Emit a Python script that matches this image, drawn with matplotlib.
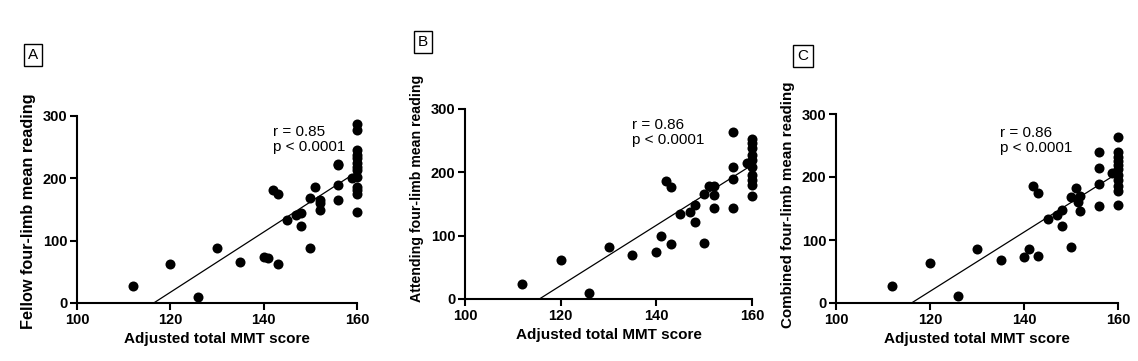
import numpy as np
import matplotlib
matplotlib.use("Agg")
import matplotlib.pyplot as plt

plt.rcParams["font.family"] = ["Liberation Sans", "DejaVu Sans"]

# ---- data ----
x_a = [112, 120, 126, 130, 135, 140, 141, 143, 142, 143, 145, 147, 148, 148, 150, 150,
       151, 152, 152, 152, 156, 156, 156, 156, 159,
       160, 160, 160, 160, 160, 160, 160, 160, 160, 160, 160, 160, 160]
y_a = [27, 62, 9, 88, 65, 73, 72, 62, 182, 175, 133, 141, 145, 124, 88, 169,
       186, 160, 149, 165, 165, 190, 221, 223, 200,
       146, 175, 182, 186, 202, 213, 218, 224, 232, 237, 245, 277, 287]

x_b = [112, 120, 126, 130, 135, 140, 141, 143, 142, 143, 145, 147, 148, 148, 150, 150,
       151, 152, 152, 152, 156, 156, 156, 156, 159,
       160, 160, 160, 160, 160, 160, 160, 160, 160, 160]
y_b = [24, 62, 10, 82, 69, 74, 99, 87, 186, 177, 134, 138, 148, 121, 89, 166,
       178, 178, 165, 144, 263, 209, 190, 144, 214,
       163, 180, 188, 196, 209, 220, 228, 238, 246, 253]

x_c = [112, 120, 126, 130, 135, 140, 141, 143, 142, 143, 145, 147, 148, 148, 150, 150,
       151, 151.5, 152, 152, 156, 156, 156, 156, 158.7,
       160, 160, 160, 160, 160, 160, 160, 160, 160, 160, 160]
y_c = [27, 63, 11, 85, 68, 73, 85, 75, 185, 175, 133, 140, 147, 122, 89, 168,
       182, 161, 170, 146, 154, 189, 214, 240, 206,
       155, 177, 185, 195, 203, 212, 219, 225, 232, 239, 263]

# regression lines (slope, intercept) as drawn
fit_a = (4.83, -562.4)
fit_b = (4.76, -550.0)
fit_c = (4.70, -545.5)

stats = ["r = 0.85\np < 0.0001", "r = 0.86\np < 0.0001", "r = 0.86\np < 0.0001"]
ylabels = ["Fellow four-limb mean reading",
           "Attending four-limb mean reading",
           "Combined four-limb mean reading"]
letters = ["A", "B", "C"]

W, H = 1138, 361
fig = plt.figure(figsize=(W / 100, H / 100), dpi=100)

# axes boxes in pixels: left, top(y=300), right(x=160), bottom(y=0)
boxes = [(77, 116, 357, 303), (465, 109, 752, 299), (836, 114, 1118, 303)]
text_pos = [(142, 286), (135, 286), (135, 281)]
letter_pos = [(33, 55), (423, 42), (803, 56)]
ylabel_size = [11.7, 10.2, 10.9]
ylabel_y = [0.49, 0.58, 0.52]

panels = [(x_a, y_a, fit_a), (x_b, y_b, fit_b), (x_c, y_c, fit_c)]

for i, (xs, ys, fit) in enumerate(panels):
    l, t, r, b = boxes[i]
    ax = fig.add_axes([l / W, 1 - b / H, (r - l) / W, (b - t) / H])
    ax.scatter(xs, ys, s=52, color="black", zorder=3, clip_on=False, linewidths=0)
    slope, icpt = fit
    lx = np.array([-icpt / slope, 160])
    ax.plot(lx, slope * lx + icpt, color="black", lw=0.9, zorder=2)
    ax.set_xlim(100, 160)
    ax.set_ylim(0, 300)
    ax.set_xticks([100, 120, 140, 160])
    ax.set_yticks([0, 100, 200, 300])
    for s in ("top", "right"):
        ax.spines[s].set_visible(False)
    for s in ("left", "bottom"):
        ax.spines[s].set_linewidth(1.5)
    ax.tick_params(width=1.5, length=5, labelsize=10.5, pad=2)
    for lab in ax.get_xticklabels() + ax.get_yticklabels():
        lab.set_fontweight("bold")
    ax.set_xlabel("Adjusted total MMT score", fontsize=11, fontweight="bold", labelpad=4)
    ax.set_ylabel(ylabels[i], fontsize=ylabel_size[i], fontweight="bold", labelpad=5)
    ax.yaxis.label.set_y(ylabel_y[i])
    tx, ty = text_pos[i]
    ax.text(tx, ty, stats[i], fontsize=11, va="top", ha="left", linespacing=1.1)
    lxp, lyp = letter_pos[i]
    fig.text(lxp / W, 1 - lyp / H, letters[i], fontsize=11, ha="center", va="center",
             bbox=dict(boxstyle="square,pad=0.28", fc="white", ec="black", lw=1))

fig.savefig("out.png", dpi=100)
